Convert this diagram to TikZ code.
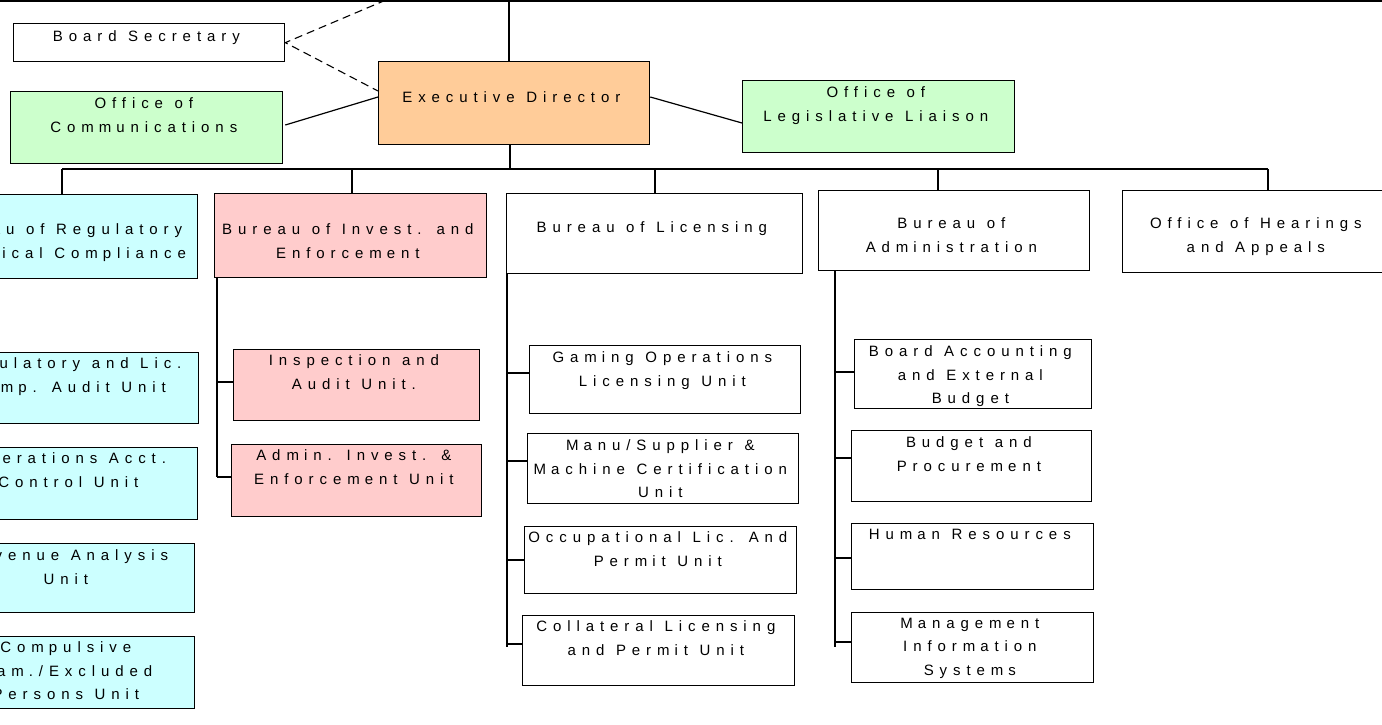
\documentclass[tikz,border=0pt]{standalone}
\usepackage{fontspec}
\setmainfont{Liberation Sans}[LetterSpace=39.5,WordSpace=1.15]
\usetikzlibrary{calc}
\definecolor{execc}{HTML}{FFCC99}
\definecolor{greenc}{HTML}{CCFFCC}
\definecolor{cyanc}{HTML}{CCFFFF}
\definecolor{pinkc}{HTML}{FFCCCC}
\newcommand\mK{m\kern5pt\relax}
\newcommand\MK{M\kern5pt\relax}
\begin{document}
\begin{tikzpicture}[x=1pt,y=-1pt,
  box/.style={draw=black, line width=1.3pt, rectangle, inner sep=0pt, anchor=north west, fill=white},
  txt/.style={anchor=north, inner sep=0pt, align=center, xshift=-2.8pt, font=\fontsize{15}{23.5}\selectfont},
  conn/.style={draw=black, line width=1.2pt},
  dashconn/.style={draw=black, line width=1.1pt, dash pattern=on 8pt off 5pt}]
\useasboundingbox (0,0) rectangle (1382,724);
\clip (0,0) rectangle (1382,724);
% ---------- top level boxes
\node[box, minimum width=271pt, minimum height=38pt] (sec) at (13,23) {};
\node[box, fill=execc, minimum width=271pt, minimum height=83pt] (exec) at (378,61) {};
\node[box, fill=greenc, minimum width=272pt, minimum height=72pt] (comm) at (10,91) {};
\node[box, fill=greenc, minimum width=272pt, minimum height=72pt] (leg) at (742,80) {};
% ---------- bureaus
\node[box, fill=cyanc, minimum width=271pt, minimum height=84pt] (reg) at (-74,194) {};
\node[box, fill=pinkc, minimum width=272pt, minimum height=84pt] (inv) at (214,193) {};
\node[box, minimum width=296pt, minimum height=80pt] (lic) at (506,193) {};
\node[box, minimum width=271pt, minimum height=80pt] (adm) at (818,190) {};
\node[box, minimum width=272pt, minimum height=82pt] (hear) at (1122,190) {};
% ---------- regulatory units
\node[box, fill=cyanc, minimum width=256pt, minimum height=71pt] (r1) at (-58,352) {};
\node[box, fill=cyanc, minimum width=253pt, minimum height=72pt] (r2) at (-56,447) {};
\node[box, fill=cyanc, minimum width=252pt, minimum height=69pt] (r3) at (-58,543) {};
\node[box, fill=cyanc, minimum width=252pt, minimum height=72pt] (r4) at (-58,636) {};
% ---------- investigation units
\node[box, fill=pinkc, minimum width=246pt, minimum height=71pt] (i1) at (233,349) {};
\node[box, fill=pinkc, minimum width=250pt, minimum height=72pt] (i2) at (231,444) {};
% ---------- licensing units
\node[box, minimum width=271pt, minimum height=68pt] (l1) at (529,345) {};
\node[box, minimum width=271pt, minimum height=70pt] (l2) at (527,433) {};
\node[box, minimum width=272pt, minimum height=67pt] (l3) at (524,526) {};
\node[box, minimum width=272pt, minimum height=70pt] (l4) at (522,615) {};
% ---------- administration units
\node[box, minimum width=237pt, minimum height=69pt] (a1) at (854,339) {};
\node[box, minimum width=240pt, minimum height=71pt] (a2) at (851,430) {};
\node[box, minimum width=242pt, minimum height=66pt] (a3) at (851,523) {};
\node[box, minimum width=242pt, minimum height=70pt] (a4) at (851,612) {};
% ---------- texts
\node[txt] (secT) at ($(sec.north)+(0,7.6)$) {Board Secretary};
\node[txt] (execT) at ($(exec.north)+(0,30.6)$) {Executive Director};
\node[txt] (commT) at ($(comm.north)+(0,6.6)$) {Office of\\Co\mK\mK unications};
\node[txt] (legT) at ($(leg.north)+(0,6.6)$) {Office of\\Legislative Liaison};
\node[txt] (regT) at ($(reg.north)+(0,29.6)$) {Bureau of Regulatory\\Technical Co\mK pliance};
\node[txt] (invT) at ($(inv.north)+(0,30.6)$) {Bureau of Invest. and\\Enforce\mK ent};
\node[txt] (licT) at ($(lic.north)+(0,28.6)$) {Bureau of Licensing};
\node[txt] (admT) at ($(adm.north)+(0,27.6)$) {Bureau of\\Ad\mK inistration};
\node[txt] (hearT) at ($(hear.north)+(0,27.6)$) {Office of Hearings\\and Appeals};
\node[txt] (r1T) at ($(r1.north)+(0,5.6)$) {Regulatory and Lic.\\Co\mK p. Audit Unit};
\node[txt] (r2T) at ($(r2.north)+(0,5.6)$) {Operations Acct.\\Control Unit};
\node[txt] (r3T) at ($(r3.north)+(0,6.6)$) {Revenue Analysis\\Unit};
\node[txt] (r4T) at ($(r4.north)+(0,5.6)$) {Co\mK pulsive\\Ga\mK ./Excluded\\Persons Unit};
\node[txt] (i1T) at ($(i1.north)+(0,5.6)$) {Inspection and\\Audit Unit.};
\node[txt] (i2T) at ($(i2.north)+(0,5.6)$) {Ad\mK in. Invest. \&\\Enforce\mK ent Unit};
\node[txt] (l1T) at ($(l1.north)+(0,6.6)$) {Ga\mK ing Operations\\Licensing Unit};
\node[txt] (l2T) at ($(l2.north)+(0,6.6)$) {\MK anu/Supplier \&\\\MK achine Certification\\Unit};
\node[txt] (l3T) at ($(l3.north)+(0,5.6)$) {Occupational Lic. And\\Per\mK it Unit};
\node[txt] (l4T) at ($(l4.north)+(0,5.6)$) {Collateral Licensing\\and Per\mK it Unit};
\node[txt] (a1T) at ($(a1.north)+(0,6.6)$) {Board Accounting\\and External\\Budget};
\node[txt] (a2T) at ($(a2.north)+(0,6.6)$) {Budget and\\Procure\mK ent};
\node[txt] (a3T) at ($(a3.north)+(0,5.6)$) {Hu\mK an Resources};
\node[txt] (a4T) at ($(a4.north)+(0,5.6)$) {\MK anage\mK ent\\Infor\mK ation\\Syste\mK s};
% ---------- coordinates
\coordinate (topL) at (-5,1);
\coordinate (topR) at (1390,1);
\coordinate (topE) at (509,1);
\coordinate (dTop) at (386,0);
\coordinate (busE) at (510,169);
\coordinate (bReg) at (62,169);
\coordinate (bInv) at (352,169);
\coordinate (bLic) at (655,169);
\coordinate (bAdm) at (938,169);
\coordinate (bHear) at (1268,169);
\coordinate (execDash) at ($(exec.north west)+(0,30)$);
\coordinate (execL) at ($(exec.north west)+(0,36)$);
\coordinate (execR) at ($(exec.north east)+(0,36)$);
\coordinate (commR) at ($(comm.north east)+(2,34)$);
\coordinate (legL) at ($(leg.north west)+(0,43)$);
\coordinate (regV) at (-71,0);
\coordinate (invV) at (217,0);
\coordinate (licV) at (507,0);
\coordinate (admV) at (835,0);
% ---------- top connectors
\draw[conn] (topL) -- (topR);
\draw[conn] (topE) -- (exec.north -| topE);
\draw[dashconn] (dTop) -- (sec.east) -- (execDash);
\draw[conn] (commR) -- (execL);
\draw[conn] (execR) -- (legL);
\draw[conn] (exec.south -| busE) -- (busE);
\draw[conn] (bReg) -- (bHear);
\draw[conn] (bReg) -- (reg.north -| bReg);
\draw[conn] (bInv) -- (inv.north -| bInv);
\draw[conn] (bLic) -- (lic.north -| bLic);
\draw[conn] (bAdm) -- (adm.north -| bAdm);
\draw[conn] (bHear) -- (hear.north -| bHear);
% ---------- regulatory branch
\coordinate (rt1) at ($(r1.north west)+(0,33)$);
\coordinate (rt2) at ($(r2.north west)+(0,33)$);
\coordinate (rt3) at ($(r3.north west)+(0,33)$);
\coordinate (rt4) at ($(r4.north west)+(0,33)$);
\draw[conn] (reg.south -| regV) -- (rt4 -| regV);
\foreach \t in {rt1,rt2,rt3,rt4} \draw[conn] (\t -| regV) -- (\t);
% ---------- investigation branch
\coordinate (it1) at ($(i1.north west)+(0,33)$);
\coordinate (it2) at ($(i2.north west)+(0,33)$);
\draw[conn] (inv.south -| invV) -- (it2 -| invV);
\draw[conn] (it1 -| invV) -- (it1);
\draw[conn] (it2 -| invV) -- (it2);
% ---------- licensing branch
\coordinate (lt1) at ($(l1.north west)+(0,28)$);
\coordinate (lt2) at ($(l2.north west)+(0,28)$);
\coordinate (lt3) at ($(l3.north west)+(0,34)$);
\coordinate (lt4) at ($(l4.north west)+(0,29)$);
\draw[conn] (lic.south -| licV) -- ($(lt4 -| licV)+(0,3)$);
\foreach \t in {lt1,lt2,lt3,lt4} \draw[conn] (\t -| licV) -- (\t);
% ---------- administration branch
\coordinate (at1) at ($(a1.north west)+(0,33)$);
\coordinate (at2) at ($(a2.north west)+(0,28)$);
\coordinate (at3) at ($(a3.north west)+(0,35)$);
\coordinate (at4) at ($(a4.north west)+(0,30)$);
\draw[conn] (adm.south -| admV) -- ($(at4 -| admV)+(0,5)$);
\foreach \t in {at1,at2,at3,at4} \draw[conn] (\t -| admV) -- (\t);
\end{tikzpicture}
\end{document}
